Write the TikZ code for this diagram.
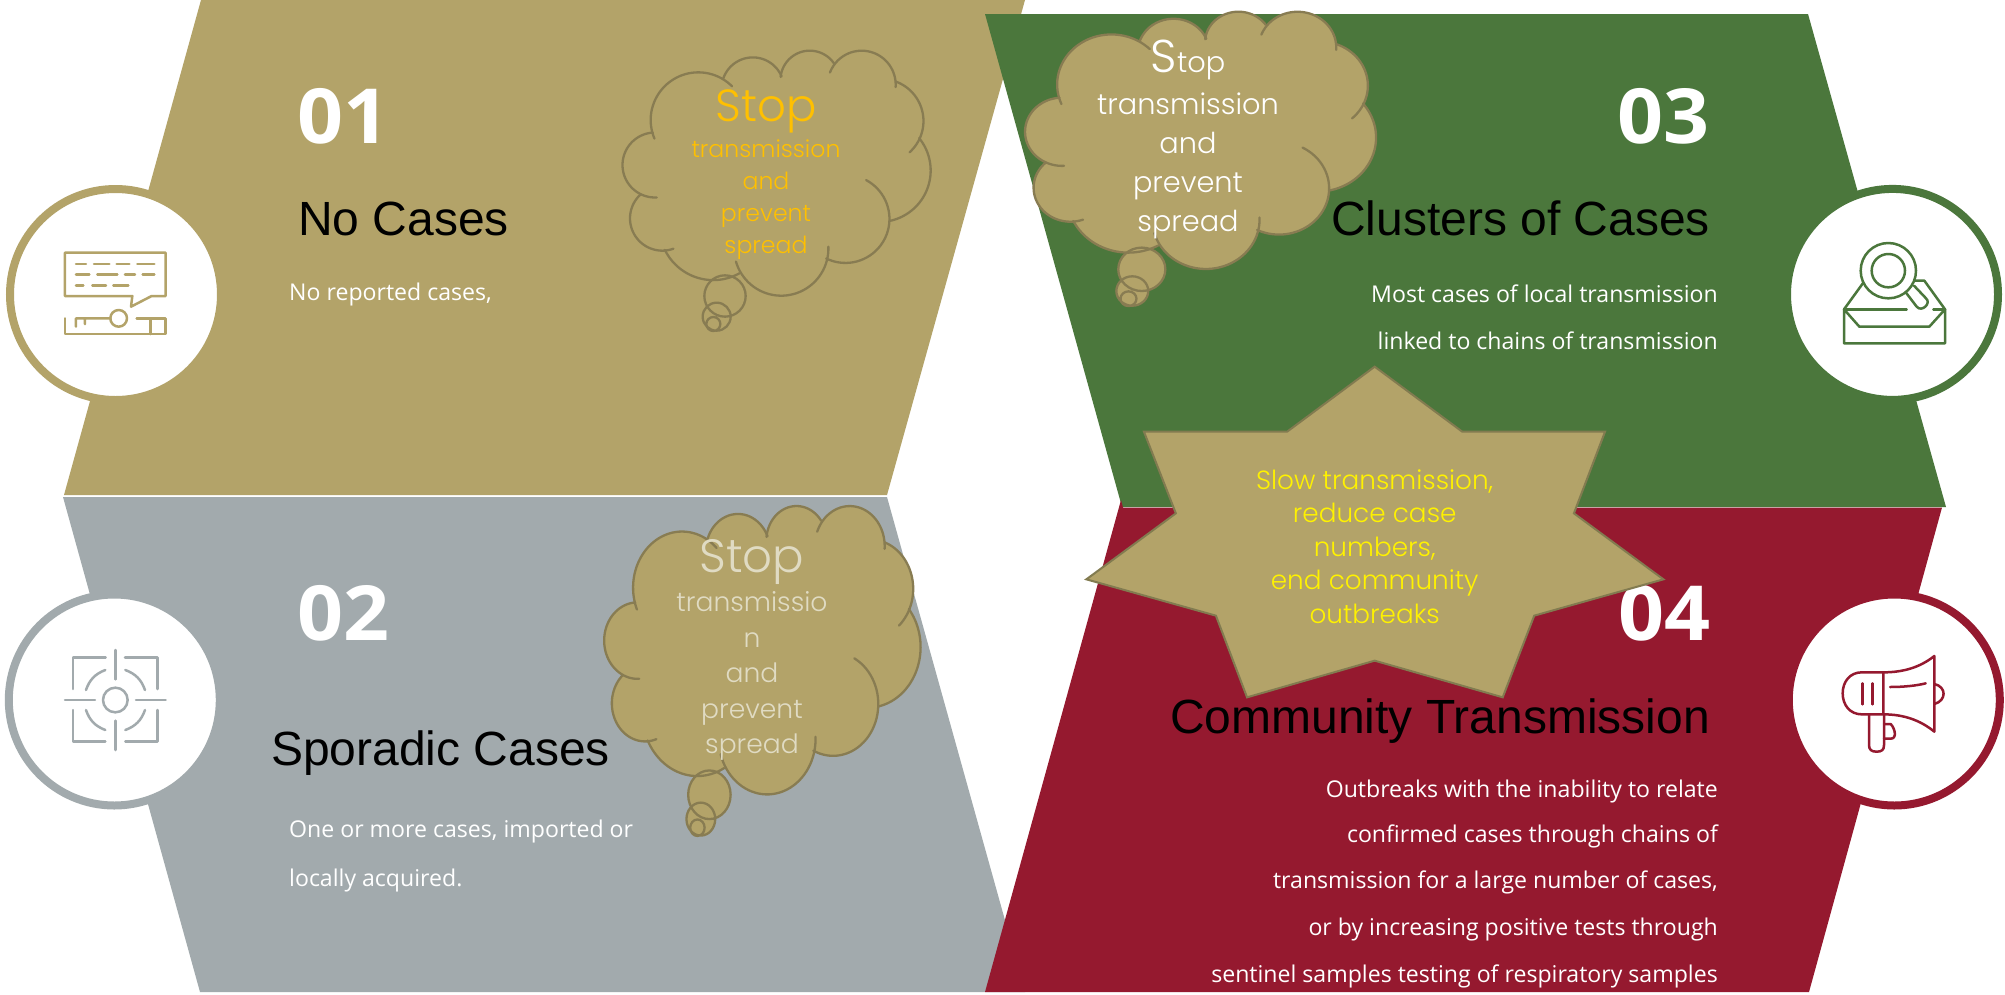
\documentclass[tikz,border=0pt]{standalone}
\usepackage{fontspec}
\setmainfont{Liberation Sans}
\newfontfamily\numfont{Open Sans}[BoldFont=* Bold,FakeStretch=1.06]
\newfontfamily\bodyfont{Open Sans}
\newfontfamily\gothfont{Poppins Light}
\definecolor{cgold}{HTML}{B3A369}
\definecolor{cgrey}{HTML}{A2AAAD}
\definecolor{cgreen}{HTML}{4B773C}
\definecolor{cred}{HTML}{95192F}
\definecolor{cline}{HTML}{887C52}
\definecolor{cfade}{HTML}{E0DBC3}
\definecolor{camber}{HTML}{FFC000}
\tikzset{
  band/.style={draw=none},
  ring/.style={circle,draw=#1,line width=8pt,fill=white,minimum size=211pt,inner sep=0pt},
  icon/.style={draw=#1,line width=2.5pt,line cap=round,line join=round},
  numlabel/.style={text=white,inner sep=0pt,font=\numfont\bfseries\fontsize{76}{76}\selectfont},
  titlelabel/.style={text=black,inner sep=0pt,font=\fontsize{48}{50}\selectfont},
  bodylabel/.style={text=white,inner sep=0pt,font=\bodyfont\fontsize{23.1}{26}\selectfont},
  cloudline/.style={draw=cline,line width=2.3pt,line cap=round},
  gothic/.style={inner sep=0pt,align=center}
}
\newcommand\drawcloud[4]{%
\begin{scope}[shift={(#1,#2)},x=#3pt,y=-#4pt]
\foreach \cx/\cy/\rr in {265/270/143,428.5/176/93.8,599.4/150/88,755.1/164.1/102,814.4/273.2/126,807.6/421.6/154.4,706.4/566.8/132,513.8/655.7/141.4,309.7/589/161.3,157/565/97,135/405/97.5}
  {\fill[cgold] (\cx,\cy) circle[radius=\rr];}
\fill[cgold] (265,270)--(428.5,176)--(599.4,150)--(755.1,164.1)--(814.4,273.2)--(807.6,421.6)--(706.4,566.8)--(513.8,655.7)--(309.7,589)--(157,565)--(135,405)--cycle;
\fill[cgold] (345,798) circle[radius=62];
\fill[cgold] (320,860) circle[radius=42];
\fill[cgold] (310,882) circle[radius=21];
\foreach \cx/\cy/\rr/\aa/\bb in {265/270/143/157/315,428.5/176/93.8/199/337,599.4/150/88/186/325,755.1/164.1/102/201/364,814.4/273.2/126/290/408,807.6/421.6/154.4/321/438.6,706.4/566.8/132/298/476,513.8/655.7/141.4/-2.3/164,309.7/589/161.3/61/154,157/565/97/70/228,135/405/97.5/87/266}
  {\draw[cloudline] plot[domain=\aa:\bb,samples=40,smooth] ({\cx+\rr*cos(\x)},{\cy+\rr*sin(\x)});}
\draw[cloudline] (345,798) circle[radius=62] (320,860) circle[radius=42] (310,882) circle[radius=21];
\end{scope}}
\begin{document}
\begin{tikzpicture}[x=1pt,y=-1pt]
\useasboundingbox[fill=white] (0,0) rectangle (2005,994);
% bands
\fill[cgold,band] (201,0) -- (1025,0) -- (887,495) -- (64,495) -- cycle;
\fill[cgrey,band] (63,497) -- (887,497) -- (1025,992) -- (200,992) -- cycle;
\fill[cgreen,band] (985,14) -- (1808,14) -- (1946,507) -- (1122,507) -- cycle;
\fill[cred,band] (1121,500) -- (1123,507.5) -- (1942,507.5) -- (1809,992) -- (985,992) -- cycle;
% rings
\node[ring=cgold] (ring1) at (115.5,294.5) {};
\node[ring=cgrey] (ring2) at (114.3,700) {};
\node[ring=cgreen] (ring3) at (1892.5,294.4) {};
\node[ring=cred] (ring4) at (1894.3,700) {};
% key icon
\begin{scope}[shift={(0,170)},x=0.33333pt,y=-0.33333pt]
\draw[icon=cgold] (195,248) -- (497,248) -- (497,378) -- (455,378) -- (393,410) -- (397,378) -- (195,378) -- cycle;
\draw[icon=cgold] (228,282)--(258,282) (282,282)--(328,282) (350,282)--(388,282) (412,282)--(463,282);
\draw[icon=cgold] (228,313)--(268,313) (292,313)--(352,313) (375,313)--(405,313) (428,313)--(463,313);
\draw[icon=cgold] (228,347)--(250,347) (277,347)--(318,347) (340,347)--(385,347);
\draw[icon=cgold] (195,445) -- (195,492) -- (497,492) -- (497,445) -- (410,445) (452,445) -- (452,492);
\draw[icon=cgold] (228,470) -- (228,445) -- (332,445) (255,445) -- (255,462) (356,445) circle[radius=25];
\end{scope}
% target icon
\begin{scope}[shift={(0,580)},x=0.33333pt,y=-0.33333pt]
\draw[icon=cgrey] (317,233)--(219,233)--(219,327) (375,233)--(472,233)--(472,327) (219,390)--(219,485)--(316,485) (472,390)--(472,485)--(376,485);
\draw[icon=cgrey] (346,210)--(346,298) (346,422)--(346,510) (195,360)--(285,360) (408,360)--(497,360);
\draw[icon=cgrey] (346,360) circle[radius=37];
\draw[icon=cgrey] (258,330) to[bend left=25] (316,270) (376,270) to[bend left=25] (435,330) (435,390) to[bend left=25] (376,450) (316,450) to[bend left=25] (258,390);
\end{scope}
% envelope icon
\begin{scope}[shift={(1770,170)},x=0.33333pt,y=-0.33333pt]
\draw[icon=cgreen] (222,418)--(222,520)--(525,520)--(525,418)--(478,470)--(268,470)--(222,418);
\draw[icon=cgreen] (222,418)--(410,418) (490,418)--(525,418);
\draw[icon=cgreen] (222,418)--(280,338) (435,332)--(463,332)--(525,418);
\draw[icon=cgreen] (355,302) circle[radius=83] (355,302) circle[radius=50];
\draw[icon=cgreen] (408,368)--(440,410) .. controls (455,428) and (485,400) .. (468,385)--(432,347);
\end{scope}
% megaphone icon
\begin{scope}[shift={(1770,580)},x=0.33333pt,y=-0.33333pt]
\draw[icon=cred] (340,277) -- (340,403) -- (275,403) .. controls (240,403) and (218,375) .. (218,340) .. controls (218,305) and (240,277) .. (275,277) -- cycle;
\draw[icon=cred] (340,277) .. controls (400,277) and (450,262) .. (493,228) -- (493,455) .. controls (450,420) and (400,403) .. (340,403);
\draw[icon=cred] (277,310)--(277,373) (308,310)--(308,373);
\draw[icon=cred] (360,321) .. controls (400,321) and (440,317) .. (467,310);
\draw[icon=cred] (493,312) .. controls (530,320) and (530,362) .. (493,372);
\draw[icon=cred] (297,403)--(297,495) .. controls (297,510) and (305,515) .. (320,515) .. controls (335,515) and (342,510) .. (342,495) -- (342,403);
\draw[icon=cred] (342,432)--(362,432) .. controls (375,445) and (382,476) .. (362,476) -- (342,476);
\end{scope}
% numbers
\node[numlabel,anchor=base west] (n1) at (297,143) {01};
\node[numlabel,anchor=base west] (n2) at (297,640) {02};
\node[numlabel,anchor=base east] (n3) at (1709.5,143) {03};
\node[numlabel,anchor=base east] (n4) at (1710.5,640) {04};
% clouds
\drawcloud{610}{30}{0.33333}{0.33333}
\drawcloud{1010.8}{-10}{0.3797}{0.35}
\drawcloud{591.3}{481.7}{0.3423}{0.3923}
% star
\begin{scope}[shift={(1070,350)},x=0.38911pt,y=-0.33333pt]
\draw[fill=cgold,draw=cline!90!cgreen,line width=2pt,line join=miter] (783,50)--(1008,245)--(1375,245)--(1295,490)--(1525,688)--(1193,797)--(1112,1042)--(783,932)--(455,1042)--(375,797)--(42,688)--(272,490)--(190,245)--(558,245)--cycle;
\end{scope}
% titles
\node[titlelabel,anchor=base west] (t1) at (298,235.5) {No Cases};
\node[titlelabel,anchor=base west] (t2) at (271,765.5) {Sporadic Cases};
\node[titlelabel,anchor=base east] (t3) at (1710,235.5) {Clusters of Cases};
\node[titlelabel,anchor=base east] (t4) at (1710,733.5) {Community Transmission};
% bodies
\node[bodylabel,anchor=west] (b1) at (289,294) {No reported cases,};
\node[bodylabel,anchor=west] (b2a) at (289,831) {One or more cases, imported or};
\node[bodylabel,anchor=west] (b2b) at (289,880) {locally acquired.};
\node[bodylabel,anchor=east] (b3a) at (1718,294) {Most cases of local transmission};
\node[bodylabel,anchor=east] (b3b) at (1718,341) {linked to chains of transmission};
\node[bodylabel,anchor=east] (b4a) at (1718,791) {Outbreaks with the inability to relate};
\node[bodylabel,anchor=east] (b4b) at (1718,836) {confirmed cases through chains of};
\node[bodylabel,anchor=east] (b4c) at (1718,882) {transmission for a large number of cases,};
\node[bodylabel,anchor=east] (b4d) at (1718,929) {or by increasing positive tests through};
\node[bodylabel,anchor=east] (b4e) at (1718,976) {sentinel samples testing of respiratory samples};
% cloud texts
\node[gothic,anchor=south,text=camber,font=\gothfont\fontsize{23.6}{32}\selectfont] (c1) at (766,259.5) {{\fontsize{45}{32}\selectfont Stop}\\[4pt]transmission\\and\\prevent\\spread};
\node[gothic,anchor=south,text=white,font=\gothfont\fontsize{28.8}{39}\selectfont] (c2) at (1188,239.5) {{\fontsize{46}{39}\selectfont S}top\\[3pt]transmission\\and\\prevent\\spread};
\node[gothic,anchor=south,text=cfade,font=\gothfont\fontsize{26.6}{35.5}\selectfont] (c3) at (752,761) {{\fontsize{46.7}{35.5}\selectfont Stop}\\[3.5pt]transmissio\\n\\and\\prevent\\spread};
% star text
\node[gothic,anchor=south,text=yellow,font=\gothfont\fontsize{26.3}{33.5}\selectfont] (s1) at (1374.7,623.5) {Slow transmission,\\reduce case\\numbers,\\end community\\outbreaks};
\end{tikzpicture}
\end{document}
